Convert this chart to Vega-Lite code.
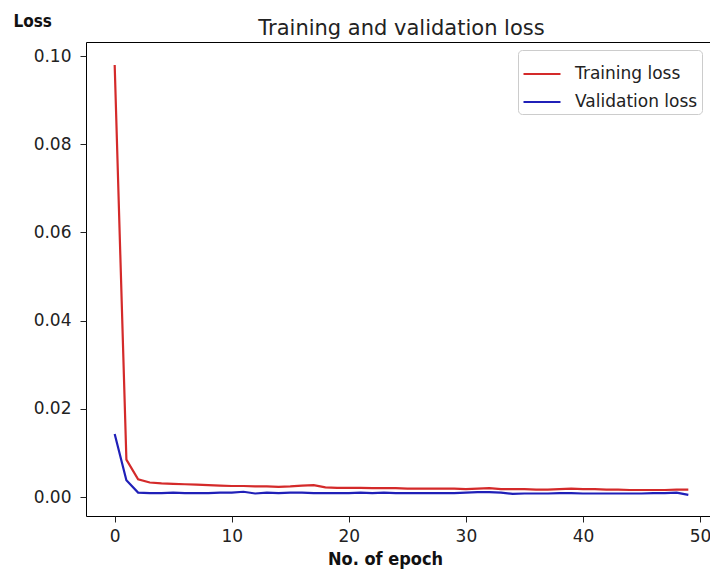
{
  "$schema": "https://vega.github.io/schema/vega-lite/v6.json",
  "width": 631,
  "height": 474,
  "autosize": {"type": "none"},
  "padding": {"left": 86, "top": 42, "right": 0, "bottom": 54},
  "background": "white",
  "title": {"text": "Training and validation loss", "font": "DejaVu Sans", "fontSize": 21, "fontWeight": "normal", "color": "#222", "anchor": "middle", "offset": -27},
  "config": {
    "view": {"stroke": "#000", "strokeWidth": 1},
    "axis": {"grid": false, "domain": false, "labelFont": "DejaVu Sans", "labelFontSize": 17, "labelColor": "#222", "tickColor": "#222", "tickSize": 6}
  },
  "data": {"values": [
    {"epoch":0,"loss":0.098,"series":"Training loss"},
    {"epoch":1,"loss":0.0085,"series":"Training loss"},
    {"epoch":2,"loss":0.0040,"series":"Training loss"},
    {"epoch":3,"loss":0.0033,"series":"Training loss"},
    {"epoch":4,"loss":0.0031,"series":"Training loss"},
    {"epoch":5,"loss":0.0030,"series":"Training loss"},
    {"epoch":6,"loss":0.0029,"series":"Training loss"},
    {"epoch":7,"loss":0.0028,"series":"Training loss"},
    {"epoch":8,"loss":0.0027,"series":"Training loss"},
    {"epoch":9,"loss":0.0026,"series":"Training loss"},
    {"epoch":10,"loss":0.0025,"series":"Training loss"},
    {"epoch":11,"loss":0.0025,"series":"Training loss"},
    {"epoch":12,"loss":0.0024,"series":"Training loss"},
    {"epoch":13,"loss":0.0024,"series":"Training loss"},
    {"epoch":14,"loss":0.0023,"series":"Training loss"},
    {"epoch":15,"loss":0.0024,"series":"Training loss"},
    {"epoch":16,"loss":0.0026,"series":"Training loss"},
    {"epoch":17,"loss":0.0027,"series":"Training loss"},
    {"epoch":18,"loss":0.0022,"series":"Training loss"},
    {"epoch":19,"loss":0.0021,"series":"Training loss"},
    {"epoch":20,"loss":0.0021,"series":"Training loss"},
    {"epoch":21,"loss":0.0021,"series":"Training loss"},
    {"epoch":22,"loss":0.0020,"series":"Training loss"},
    {"epoch":23,"loss":0.0020,"series":"Training loss"},
    {"epoch":24,"loss":0.0020,"series":"Training loss"},
    {"epoch":25,"loss":0.0019,"series":"Training loss"},
    {"epoch":26,"loss":0.0019,"series":"Training loss"},
    {"epoch":27,"loss":0.0019,"series":"Training loss"},
    {"epoch":28,"loss":0.0019,"series":"Training loss"},
    {"epoch":29,"loss":0.0019,"series":"Training loss"},
    {"epoch":30,"loss":0.0018,"series":"Training loss"},
    {"epoch":31,"loss":0.0019,"series":"Training loss"},
    {"epoch":32,"loss":0.0020,"series":"Training loss"},
    {"epoch":33,"loss":0.0018,"series":"Training loss"},
    {"epoch":34,"loss":0.0018,"series":"Training loss"},
    {"epoch":35,"loss":0.0018,"series":"Training loss"},
    {"epoch":36,"loss":0.0017,"series":"Training loss"},
    {"epoch":37,"loss":0.0017,"series":"Training loss"},
    {"epoch":38,"loss":0.0018,"series":"Training loss"},
    {"epoch":39,"loss":0.0019,"series":"Training loss"},
    {"epoch":40,"loss":0.0018,"series":"Training loss"},
    {"epoch":41,"loss":0.0018,"series":"Training loss"},
    {"epoch":42,"loss":0.0017,"series":"Training loss"},
    {"epoch":43,"loss":0.0017,"series":"Training loss"},
    {"epoch":44,"loss":0.0016,"series":"Training loss"},
    {"epoch":45,"loss":0.0016,"series":"Training loss"},
    {"epoch":46,"loss":0.0016,"series":"Training loss"},
    {"epoch":47,"loss":0.0016,"series":"Training loss"},
    {"epoch":48,"loss":0.0017,"series":"Training loss"},
    {"epoch":49,"loss":0.0017,"series":"Training loss"},
    {"epoch":0,"loss":0.0143,"series":"Validation loss"},
    {"epoch":1,"loss":0.0038,"series":"Validation loss"},
    {"epoch":2,"loss":0.0010,"series":"Validation loss"},
    {"epoch":3,"loss":0.0009,"series":"Validation loss"},
    {"epoch":4,"loss":0.0009,"series":"Validation loss"},
    {"epoch":5,"loss":0.0010,"series":"Validation loss"},
    {"epoch":6,"loss":0.0009,"series":"Validation loss"},
    {"epoch":7,"loss":0.0009,"series":"Validation loss"},
    {"epoch":8,"loss":0.0009,"series":"Validation loss"},
    {"epoch":9,"loss":0.0010,"series":"Validation loss"},
    {"epoch":10,"loss":0.0010,"series":"Validation loss"},
    {"epoch":11,"loss":0.0012,"series":"Validation loss"},
    {"epoch":12,"loss":0.0008,"series":"Validation loss"},
    {"epoch":13,"loss":0.0010,"series":"Validation loss"},
    {"epoch":14,"loss":0.0009,"series":"Validation loss"},
    {"epoch":15,"loss":0.0010,"series":"Validation loss"},
    {"epoch":16,"loss":0.0010,"series":"Validation loss"},
    {"epoch":17,"loss":0.0009,"series":"Validation loss"},
    {"epoch":18,"loss":0.0009,"series":"Validation loss"},
    {"epoch":19,"loss":0.0009,"series":"Validation loss"},
    {"epoch":20,"loss":0.0009,"series":"Validation loss"},
    {"epoch":21,"loss":0.0010,"series":"Validation loss"},
    {"epoch":22,"loss":0.0009,"series":"Validation loss"},
    {"epoch":23,"loss":0.0010,"series":"Validation loss"},
    {"epoch":24,"loss":0.0009,"series":"Validation loss"},
    {"epoch":25,"loss":0.0009,"series":"Validation loss"},
    {"epoch":26,"loss":0.0009,"series":"Validation loss"},
    {"epoch":27,"loss":0.0009,"series":"Validation loss"},
    {"epoch":28,"loss":0.0009,"series":"Validation loss"},
    {"epoch":29,"loss":0.0009,"series":"Validation loss"},
    {"epoch":30,"loss":0.0010,"series":"Validation loss"},
    {"epoch":31,"loss":0.0011,"series":"Validation loss"},
    {"epoch":32,"loss":0.0011,"series":"Validation loss"},
    {"epoch":33,"loss":0.0010,"series":"Validation loss"},
    {"epoch":34,"loss":0.0007,"series":"Validation loss"},
    {"epoch":35,"loss":0.0008,"series":"Validation loss"},
    {"epoch":36,"loss":0.0008,"series":"Validation loss"},
    {"epoch":37,"loss":0.0008,"series":"Validation loss"},
    {"epoch":38,"loss":0.0009,"series":"Validation loss"},
    {"epoch":39,"loss":0.0009,"series":"Validation loss"},
    {"epoch":40,"loss":0.0008,"series":"Validation loss"},
    {"epoch":41,"loss":0.0008,"series":"Validation loss"},
    {"epoch":42,"loss":0.0008,"series":"Validation loss"},
    {"epoch":43,"loss":0.0008,"series":"Validation loss"},
    {"epoch":44,"loss":0.0008,"series":"Validation loss"},
    {"epoch":45,"loss":0.0008,"series":"Validation loss"},
    {"epoch":46,"loss":0.0009,"series":"Validation loss"},
    {"epoch":47,"loss":0.0009,"series":"Validation loss"},
    {"epoch":48,"loss":0.0010,"series":"Validation loss"},
    {"epoch":49,"loss":0.0005,"series":"Validation loss"}
  ]},
  "mark": {"type": "line", "strokeWidth": 2.2, "clip": true},
  "encoding": {
    "x": {"field": "epoch", "type": "quantitative",
      "scale": {"domain": [-2.45, 51.45], "nice": false, "zero": false},
      "axis": {"values": [0, 10, 20, 30, 40, 50], "labelPadding": 6, "title": "No. of epoch", "titleFont": "DejaVu Sans Condensed", "titleFontSize": 18, "titleFontWeight": "bold", "titleColor": "#111", "titleX": 299, "titleY": 48, "titleBaseline": "alphabetic", "titleAnchor": null}},
    "y": {"field": "loss", "type": "quantitative",
      "scale": {"domain": [-0.0043, 0.1032], "nice": false, "zero": false},
      "axis": {"values": [0, 0.02, 0.04, 0.06, 0.08, 0.1], "format": ".2f", "labelPadding": 9, "title": "Loss", "titleAngle": 0, "titleFont": "DejaVu Sans Condensed", "titleFontSize": 17, "titleFontWeight": "bold", "titleColor": "#111", "titleX": -73, "titleY": -16, "titleAlign": "left", "titleBaseline": "alphabetic"}},
    "color": {"field": "series", "type": "nominal",
      "scale": {"domain": ["Training loss", "Validation loss"], "range": ["#d42a2a", "#2020b8"]},
      "legend": {"title": null, "orient": "none", "legendX": 432, "legendY": 8, "symbolType": "stroke", "symbolSize": 1369, "symbolStrokeWidth": 2.2, "labelFont": "DejaVu Sans", "labelFontSize": 17, "labelColor": "#222", "strokeColor": "#ccc", "fillColor": "white", "cornerRadius": 4, "padding": 4, "rowPadding": -9, "labelOffset": 13}}
  }
}
